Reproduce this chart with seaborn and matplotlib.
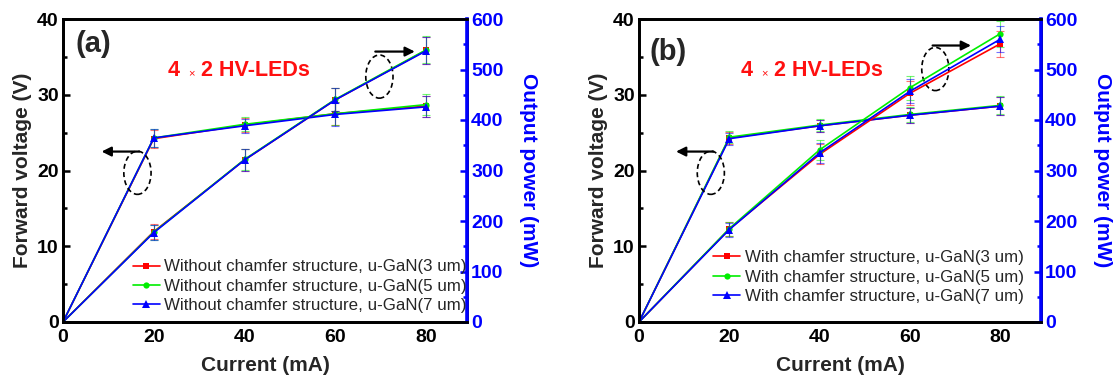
import matplotlib
matplotlib.use("Agg")
import matplotlib.pyplot as plt
from matplotlib.patches import Ellipse
from matplotlib.ticker import MultipleLocator
import numpy as np
import pandas as pd
import seaborn as sns

# ---------------- data ----------------
current = [0, 20, 40, 60, 80]

# panel (a): without chamfer structure
va_3 = [0, 24.2, 26.0, 27.5, 28.5]
va_5 = [0, 24.3, 26.1, 27.5, 28.7]
va_7 = [0, 24.3, 25.9, 27.4, 28.4]
pa_3 = [0, 179, 321, 440, 538]
pa_5 = [0, 178, 322, 441, 539]
pa_7 = [0, 177, 321, 440, 537]
va_err = [0, 1.2, 0.95, 1.5, 1.4]
pa_err = [0, 15, 21, 23, 27]

# panel (b): with chamfer structure
vb_3 = [0, 24.3, 25.9, 27.3, 28.5]
vb_5 = [0, 24.4, 26.0, 27.4, 28.6]
vb_7 = [0, 24.2, 25.9, 27.3, 28.5]
pb_3 = [0, 184, 332, 453, 551]
pb_5 = [0, 185, 341, 464, 571]
pb_7 = [0, 183, 335, 457, 560]
vb_err = [0, 0.8, 0.8, 1.0, 1.2]
pb_err = [0, 14, 20, 24, 26]

labels_a = ["Without chamfer structure, u-GaN(3 um)",
            "Without chamfer structure, u-GaN(5 um)",
            "Without chamfer structure, u-GaN(7 um)"]
labels_b = ["With chamfer structure, u-GaN(3 um)",
            "With chamfer structure, u-GaN(5 um)",
            "With chamfer structure, u-GaN(7 um)"]

colors = ["#ff0000", "#00ee00", "#0000ff"]
markers = ["s", "o", "^"]
msizes = [4.0, 4.5, 6.0]

sns.set_theme(style="white")
plt.rcParams["font.family"] = ["Liberation Sans", "DejaVu Sans"]

fig = plt.figure(figsize=(11.16, 3.76), dpi=100)

BLUE = "#0000ff"


def make_df(series, labels):
    rows = []
    for vals, lab in zip(series, labels):
        for c, v in zip(current, vals):
            rows.append({"Current": c, "Value": v, "Series": lab})
    return pd.DataFrame(rows)


def panel(rect, volts, powers, verr, perr, labels, tag, ell_l, arr_l, ell_r, arr_r,
          tag_pos, title_pos, leg_anchor):
    ax = fig.add_axes(rect)
    ax2 = ax.twinx()

    for vals, col in zip(volts, colors):
        ax.errorbar(current[1:], vals[1:], yerr=verr[1:], fmt="none",
                    ecolor=col, elinewidth=0.8, capsize=3, capthick=0.8, alpha=0.55)
    for vals, col in zip(powers, colors):
        ax2.errorbar(current[1:], vals[1:], yerr=perr[1:], fmt="none",
                     ecolor=col, elinewidth=0.8, capsize=3, capthick=0.8, alpha=0.55)

    dfv = make_df(volts, labels)
    dfp = make_df(powers, labels)
    for a, df in ((ax, dfv), (ax2, dfp)):
        sns.lineplot(data=df, x="Current", y="Value", hue="Series", style="Series",
                     hue_order=labels, style_order=labels,
                     palette=colors, markers=markers, dashes=False,
                     linewidth=1.2, markeredgewidth=0,
                     ax=a, legend=False, errorbar=None, sort=False)
        for ln, ms in zip(a.get_lines()[-3:], msizes):
            ln.set_markevery([1, 2, 3, 4])
            ln.set_markersize(ms)
            ln.set_clip_on(False)

    ax.set_xlim(0, 89)
    ax.set_ylim(0, 40)
    ax2.set_ylim(0, 600)

    ax.xaxis.set_major_locator(MultipleLocator(20))
    ax.xaxis.set_minor_locator(MultipleLocator(10))
    ax.yaxis.set_major_locator(MultipleLocator(10))
    ax.yaxis.set_minor_locator(MultipleLocator(5))
    ax2.yaxis.set_major_locator(MultipleLocator(100))
    ax2.yaxis.set_minor_locator(MultipleLocator(50))

    ax.tick_params(axis="both", which="both", direction="in", labelsize=14,
                   width=1.8, colors="black", right=False, top=False)
    ax.tick_params(which="major", length=5)
    ax.tick_params(which="minor", length=3)
    ax2.tick_params(axis="y", which="both", direction="in", labelsize=14,
                    width=1.8, colors=BLUE, left=False)
    ax2.tick_params(which="major", length=5)
    ax2.tick_params(which="minor", length=3)
    for t in ax.get_xticklabels() + ax.get_yticklabels():
        t.set_fontweight("bold")
    for t in ax2.get_yticklabels():
        t.set_fontweight("bold")
        t.set_color(BLUE)
    ax.tick_params(axis="x", pad=5)
    ax.tick_params(axis="y", pad=3)
    ax2.tick_params(axis="y", pad=3)

    for s in ax.spines.values():
        s.set_linewidth(2.0)
        s.set_color("black")
    for name, s in ax2.spines.items():
        s.set_linewidth(2.0)
        s.set_color("black")
    ax2.spines["right"].set_color(BLUE)
    ax2.spines["right"].set_linewidth(2.6)

    ax.set_xlabel("Current (mA)", fontsize=15, fontweight="bold", labelpad=7)
    ax.set_ylabel("Forward voltage (V)", fontsize=15, fontweight="bold", labelpad=4)
    ax2.set_ylabel("Output power (mW)", fontsize=15, fontweight="bold", color=BLUE,
                   rotation=270, labelpad=25)

    # annotations
    ax.add_patch(Ellipse(ell_l, 6, 5.7, fill=False, ls=(0, (3, 2)), lw=1.2,
                         color="black", zorder=5))
    ax.annotate("", xy=(arr_l[1], arr_l[2]), xytext=(arr_l[0], arr_l[2]),
                arrowprops=dict(arrowstyle="-|>", color="black", lw=1.6,
                                mutation_scale=14, shrinkA=0, shrinkB=0))
    ax.add_patch(Ellipse(ell_r, 6, 5.7, fill=False, ls=(0, (3, 2)), lw=1.2,
                         color="black", zorder=5))
    ax.annotate("", xy=(arr_r[1], arr_r[2]), xytext=(arr_r[0], arr_r[2]),
                arrowprops=dict(arrowstyle="-|>", color="black", lw=1.6,
                                mutation_scale=14, shrinkA=0, shrinkB=0))

    ax.text(tag_pos[0], tag_pos[1], tag, fontsize=21, fontweight="bold",
            ha="center", va="center")
    tx, ty = title_pos
    ax.text(tx, ty, "4", fontsize=15.5, fontweight="bold", color="#ff1010",
            ha="right", va="baseline")
    ax.text(tx + 2.5, ty, "\u00d7", fontsize=8, color="#ff1010",
            ha="center", va="baseline")
    ax.text(tx + 4.7, ty, "2 HV-LEDs", fontsize=15.5, fontweight="bold", color="#ff1010",
            ha="left", va="baseline")

    handles = [plt.Line2D([], [], color=c, marker=m, lw=1.2, markersize=ms,
                          markeredgewidth=0) for c, m, ms in zip(colors, markers, msizes)]
    ax2.legend(handles, labels, loc="lower left", bbox_to_anchor=leg_anchor,
               frameon=False, fontsize=12.2, handlelength=1.6,
               handletextpad=0.25, labelspacing=0.25, borderpad=0,
               borderaxespad=0)
    return ax, ax2


panel([63 / 1116, 1 - 322 / 376, 404 / 1116, 303 / 376],
      [va_3, va_5, va_7], [pa_3, pa_5, pa_7], va_err, pa_err, labels_a, "(a)",
      (16.4, 19.7), (16.8, 8.5, 22.5), (69.7, 32.4), (68.8, 77.5, 35.7),
      (6.8, 36.7), (25.7, 32.5), (0.173, 0.03))

panel([639 / 1116, 1 - 322 / 376, 402 / 1116, 303 / 376],
      [vb_3, vb_5, vb_7], [pb_3, pb_5, pb_7], vb_err, pb_err, labels_b, "(b)",
      (15.9, 19.7), (16.5, 8.2, 22.5), (65.6, 33.4), (65.0, 73.5, 36.5),
      (6.5, 35.7), (25.2, 32.5), (0.185, 0.06))

fig.savefig("out.png", dpi=100)
